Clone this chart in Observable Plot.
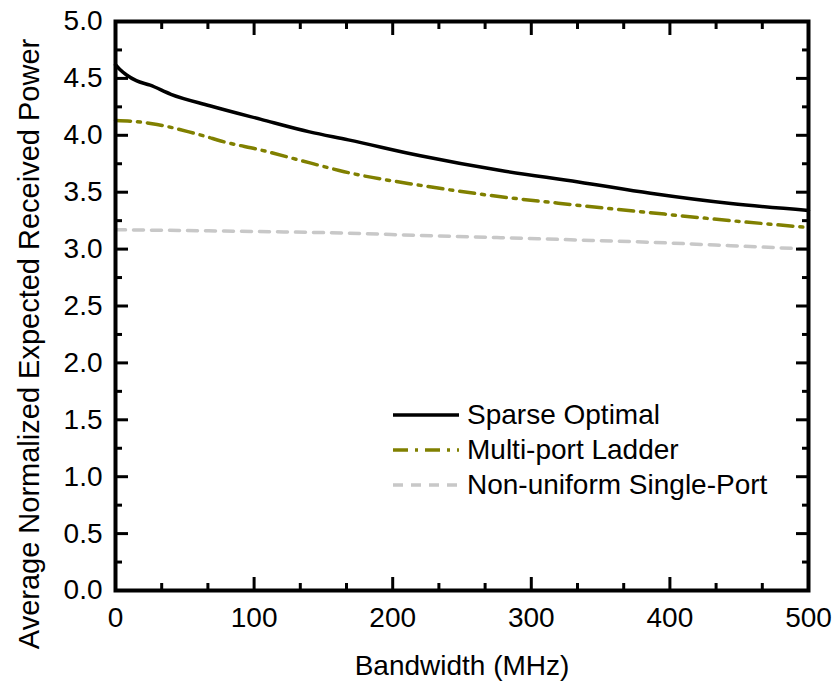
<!DOCTYPE html>
<html>
<head>
<meta charset="utf-8">
<script src="https://cdn.jsdelivr.net/npm/d3@7"></script>
<script src="https://cdn.jsdelivr.net/npm/@observablehq/plot@0.6"></script>
<style>
  html, body { margin: 0; padding: 0; background: #fff; }
  #wrap { position: relative; width: 837px; height: 681px; font-family: "Liberation Sans", Arial, Helvetica, sans-serif; }
  #legend { position: absolute; left: 393px; top: 397px; font-size: 28px; color: #000; }
  .row { display: flex; align-items: center; height: 35px; }
  .row svg { width: 66px; height: 10px; margin-right: 8px; }
</style>
</head>
<body>
<div id="wrap"></div>
<script>
// ---- data ----
const sparseBW  = [0, 3, 8, 15, 25, 40, 68, 105, 140, 168, 220, 278, 334, 386, 444, 500];
const sparsePow = [4.62, 4.58, 4.53, 4.48, 4.44, 4.36, 4.26, 4.14, 4.03, 3.96, 3.82, 3.69, 3.59, 3.49, 3.40, 3.34];

const ladderBW  = [0, 15, 30, 53, 65, 76, 105, 141, 165, 220, 278, 330, 386, 444, 500];
const ladderPow = [4.13, 4.12, 4.095, 4.03, 3.99, 3.95, 3.87, 3.755, 3.68, 3.56, 3.46, 3.39, 3.32, 3.25, 3.19];

const singleBW  = [0, 100, 168, 220, 278, 334, 386, 444, 500];
const singlePow = [3.17, 3.155, 3.14, 3.12, 3.10, 3.08, 3.06, 3.03, 3.00];

const seriesNames = ["Sparse Optimal", "Multi-port Ladder", "Non-uniform Single-Port"];
const seriesColors = ["#000000", "#808000", "#c8c8c8"];
const seriesDash = [null, "15,7,3,7", "10,8"];

const xMajor = [0, 100, 200, 300, 400, 500];
const xMinor = [33.33, 66.67, 133.33, 166.67, 233.33, 266.67, 333.33, 366.67, 433.33, 466.67];
const yMajor = [0, 0.5, 1.0, 1.5, 2.0, 2.5, 3.0, 3.5, 4.0, 4.5, 5.0];
const yMinor = [0.25, 0.75, 1.25, 1.75, 2.25, 2.75, 3.25, 3.75, 4.25, 4.75];

const xLabel = "Bandwidth (MHz)";
const yLabel = "Average Normalized Expected Received Power";

// ---- build tables ----
const toRows = (bw, p) => bw.map((b, i) => ({bw: b, p: p[i]}));
const sparse = toRows(sparseBW, sparsePow);
const ladder = toRows(ladderBW, ladderPow);
const single = toRows(singleBW, singlePow);

const font = "'Liberation Sans', Arial, Helvetica, sans-serif";
const tickW = 3;

const chart = Plot.plot({
  width: 837,
  height: 681,
  marginLeft: 115,
  marginRight: 29,
  marginTop: 21,
  marginBottom: 91,
  style: {fontFamily: font, fontSize: "28px", color: "#000", background: "#fff"},
  x: {domain: [0, 500]},
  y: {domain: [0, 5]},
  marks: [
    Plot.line(single, {x: "bw", y: "p", stroke: seriesColors[2], strokeWidth: 3.5, strokeDasharray: seriesDash[2], curve: "monotone-x"}),
    Plot.line(ladder, {x: "bw", y: "p", stroke: seriesColors[1], strokeWidth: 3.5, strokeDasharray: seriesDash[1], curve: "monotone-x"}),
    Plot.line(sparse, {x: "bw", y: "p", stroke: seriesColors[0], strokeWidth: 3.5, curve: "monotone-x"}),
    // bottom axis
    Plot.axisX(xMajor, {anchor: "bottom", tickSize: -13, tickPadding: 30, strokeWidth: tickW, tickFormat: d3.format("d"), fontSize: 28, label: null}),
    Plot.axisX(xMinor, {anchor: "bottom", tickSize: -7, strokeWidth: tickW, tickFormat: () => "", label: null}),
    // top axis
    Plot.axisX(xMajor, {anchor: "top", tickSize: -13, strokeWidth: tickW, tickFormat: () => "", label: null}),
    Plot.axisX(xMinor, {anchor: "top", tickSize: -7, strokeWidth: tickW, tickFormat: () => "", label: null}),
    // left axis
    Plot.axisY(yMajor, {anchor: "left", tickSize: -13, tickPadding: 26, strokeWidth: tickW, tickFormat: d3.format(".1f"), fontSize: 28, label: null}),
    Plot.axisY(yMinor, {anchor: "left", tickSize: -7, strokeWidth: tickW, tickFormat: () => "", label: null}),
    // right axis
    Plot.axisY(yMajor, {anchor: "right", tickSize: -13, strokeWidth: tickW, tickFormat: () => "", label: null}),
    Plot.axisY(yMinor, {anchor: "right", tickSize: -7, strokeWidth: tickW, tickFormat: () => "", label: null}),
    Plot.frame({stroke: "#000", strokeWidth: 4}),
    Plot.text([xLabel], {text: d => d, frameAnchor: "bottom", textAnchor: "middle", dy: 76, lineAnchor: "middle", fontSize: 28, fill: "#000"}),
    Plot.text([yLabel], {text: d => d, frameAnchor: "left", textAnchor: "middle", rotate: -90, dx: -86, dy: 38, lineAnchor: "middle", fontSize: 29, fill: "#000"})
  ]
});

const wrap = document.getElementById("wrap");
wrap.appendChild(chart);

// legend (inside the plot area, as in the reference)
const legend = document.createElement("div");
legend.id = "legend";
seriesNames.forEach((name, i) => {
  const row = document.createElement("div");
  row.className = "row";
  const dash = seriesDash[i] ? ` stroke-dasharray="${seriesDash[i]}"` : "";
  row.innerHTML = `<svg viewBox="0 0 66 10"><line x1="0" y1="5" x2="66" y2="5" stroke="${seriesColors[i]}" stroke-width="3.5"${dash}/></svg><span>${name}</span>`;
  legend.appendChild(row);
});
wrap.appendChild(legend);
</script>
</body>
</html>
